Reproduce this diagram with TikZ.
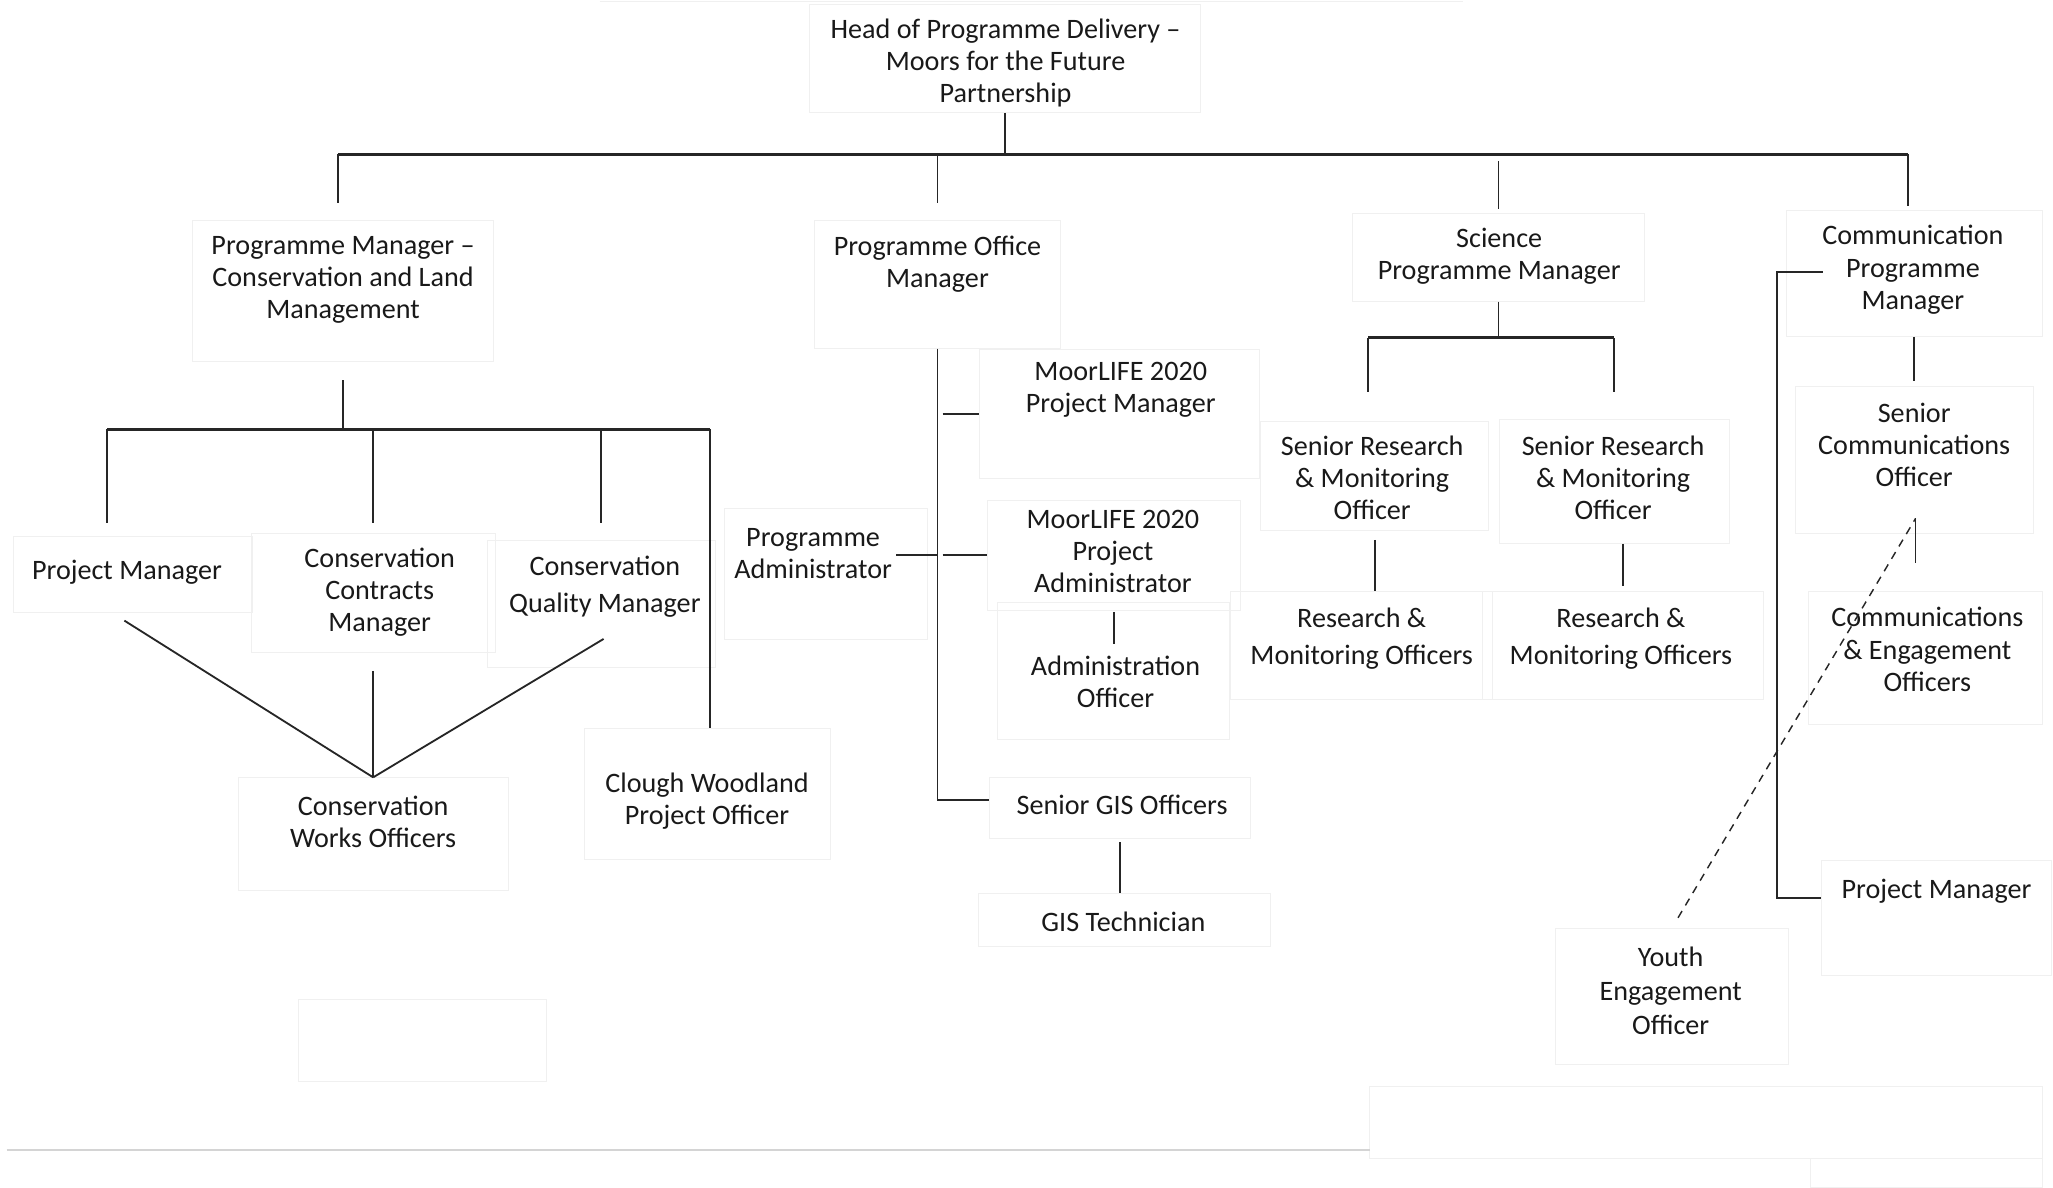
\documentclass[tikz,border=0pt]{standalone}
\usepackage{fontspec}
\setmainfont{Carlito}
\usetikzlibrary{fit}

\begin{document}
\begin{tikzpicture}[x=1pt, y=-1pt,
    post/.style={align=center, inner sep=0pt, yshift=-2pt, text=black!90, font=\fontsize{21.5}{24.5}\selectfont},
    frame/.style={draw=black!6, line width=0.6pt, inner sep=0pt},
    link/.style={draw=black!85, line width=1.4pt},
    bus/.style={draw=black!85, line width=2.2pt},
    dashlink/.style={draw=black!85, line width=1.1pt, dash pattern=on 6pt off 5pt}]

    \useasboundingbox (0,0) rectangle (1568,907);

    % Draw the faint frames.
    \node[frame, fit={(618,3) (917,86)}] (head_box) {};
    \node[frame, fit={(147,168) (377,276)}] (pmc_box) {};
    \node[frame, fit={(622,168) (810,266)}] (pom_box) {};
    \node[frame, fit={(1033,163) (1256,230)}] (spm_box) {};
    \node[frame, fit={(1364,161) (1560,257)}] (cpm_box) {};
    \node[frame, fit={(10,410) (193,468)}] (pm1_box) {};
    \node[frame, fit={(192,407) (378,498)}] (ccm_box) {};
    \node[frame, fit={(372,413) (546,510)}] (cqm_box) {};
    \node[frame, fit={(553,388) (708,488)}] (pa_box) {};
    \node[frame, fit={(182,594) (388,680)}] (cwo_box) {};
    \node[frame, fit={(446,556) (634,656)}] (clough_box) {};
    \node[frame, fit={(228,763) (417,826)}] (blank_box) {};
    \node[frame, fit={(748,267) (962,365)}] (mlpm_box) {};
    \node[frame, fit={(754,382) (947,466)}] (mlpa_box) {};
    \node[frame, fit={(762,460) (939,565)}] (adm_box) {};
    \node[frame, fit={(756,594) (955,640)}] (sgis_box) {};
    \node[frame, fit={(747,682) (970,723)}] (gis_box) {};
    \node[frame, fit={(963,322) (1137,405)}] (srm1_box) {};
    \node[frame, fit={(1145,320) (1321,415)}] (srm2_box) {};
    \node[frame, fit={(940,452) (1140,534)}] (rmo1_box) {};
    \node[frame, fit={(1132,452) (1347,534)}] (rmo2_box) {};
    \node[frame, fit={(1371,295) (1553,407)}] (sco_box) {};
    \node[frame, fit={(1381,452) (1560,553)}] (ceo_box) {};
    \node[frame, fit={(1391,657) (1567,745)}] (pm2_box) {};
    \node[frame, fit={(1188,709) (1366,813)}] (yeo_box) {};
    \node[frame, fit={(1046,830) (1560,885)}] (foot_box) {};
    \node[frame, fit={(1383,885) (1560,907)}] (corner_box) {};
    \draw[black!6, line width=1pt] (458,1) -- (1117,1);
    \draw[black!17, line width=1.6pt] (5,878) -- (1046,878);

    % Draw the posts.
    \node[post] (head) at (768,46) {Head of Programme Delivery –\\Moors for the Future\\Partnership};
    \node[post] (pmc) at (262,212) {Programme Manager –\\Conservation and Land\\Management};
    \node[post] (pom) at (716,200) {Programme Office\\Manager};
    \node[post] (spm) at (1145,194) {Science\\Programme Manager};
    \node[post] (cpm) at (1461,204) {Communication\\Programme\\Manager};
    \node[post] (pm1) at (97,435) {Project Manager};
    \node[post] (ccm) at (290,450) {Conservation\\Contracts\\Manager};
    \node[post] (cqm) at (462,446) {Conservation\\[4pt]Quality Manager};
    \node[post] (cwo) at (285,626) {Conservation\\Works Officers};
    \node[post] (clough) at (540,610) {Clough Woodland\\Project Officer};
    \node[post] (mlpm) at (856,296) {MoorLIFE 2020\\Project Manager};
    \node[post] (mlpa) at (850,419) {MoorLIFE 2020\\Project\\Administrator};
    \node[post] (adm) at (852,519) {Administration\\Officer};
    \node[post] (pa) at (621,421) {Programme\\Administrator};
    \node[post] (sgis) at (857,613) {Senior GIS Officers};
    \node[post] (gis) at (858,702) {GIS Technician};
    \node[post] (srm1) at (1048,363) {Senior Research\\\& Monitoring\\Officer};
    \node[post] (srm2) at (1232,363) {Senior Research\\\& Monitoring\\Officer};
    \node[post] (rmo1) at (1040,486) {Research \&\\[4pt]Monitoring Officers};
    \node[post] (rmo2) at (1238,486) {Research \&\\[4pt]Monitoring Officers};
    \node[post] (sco) at (1462,338) {Senior\\Communications\\Officer};
    \node[post] (ceo) at (1472,494) {Communications\\\& Engagement\\Officers};
    \node[post] (pm2) at (1479,679) {Project Manager};
    \node[post] (yeo) at (1276,755) {Youth\\[1pt]Engagement\\[2pt]Officer};

    % Draw the lines.
    % Head -> managers.
    \coordinate (top_l) at (258,118);
    \coordinate (top_r) at (1457,118);
    \draw[link] (head_box.south) -- (head_box.south |- top_l);
    \draw[bus] (top_l) -- (top_r);
    \draw[link, shorten >=13pt] (top_l) -- (top_l |- pmc_box.north);
    \draw[link, shorten >=13pt] (pom_box.north |- top_l) -- (pom_box.north);
    \draw[link, shorten <=5pt, shorten >=3pt] (spm_box.north |- top_l) -- (spm_box.north);
    \draw[link, shorten >=3pt] (top_r) -- (top_r |- cpm_box.north);
    % Conservation.
    \coordinate (cons_l) at (82,328);
    \coordinate (cons_r) at (542,328);
    \draw[link, shorten <=14pt] (pmc_box.south) -- (pmc_box.south |- cons_l);
    \draw[bus] (cons_l) -- (cons_r);
    \draw[link, shorten >=10pt] (cons_l) -- (cons_l |- pm1_box.north);
    \draw[link, shorten >=7pt] (ccm_box.north |- cons_l) -- (ccm_box.north);
    \draw[link, shorten >=13pt] (cqm_box.north |- cons_l) -- (cqm_box.north);
    \draw[link] (cons_r) -- (cons_r |- clough_box.north);
    \coordinate (v_l) at (95,474);
    \coordinate (v_r) at (461,488);
    \draw[link] (v_l) -- (cwo_box.north);
    \draw[link, shorten <=14pt] (ccm_box.south) -- (cwo_box.north);
    \draw[link] (v_r) -- (cwo_box.north);
    % Programme office.
    \draw[link] (pom_box.south) |- ([yshift=6pt]sgis_box.west);
    \draw[link, shorten <=4pt] (pom_box.south |- mlpm_box.west) -- (mlpm_box.west);
    \draw[link, shorten <=4pt] (pom_box.south |- mlpa_box.west) -- (mlpa_box.west);
    \draw[link, shorten <=3pt] (pa.east |- mlpa_box.west) -- (pom_box.south |- mlpa_box.west);
    \draw[link, shorten <=1pt, shorten >=9pt] (mlpa_box.south) -- (mlpa_box.south |- adm.north);
    \draw[link, shorten <=3pt] (sgis_box.south) -- (sgis_box.south |- gis_box.north);
    % Science.
    \coordinate (sci_l) at (1045,258);
    \coordinate (sci_r) at (1233,258);
    \draw[link] (spm_box.south) -- (spm_box.south |- sci_l);
    \draw[bus] (sci_l) -- (sci_r);
    \draw[link, shorten >=22pt] (sci_l) -- (sci_l |- srm1_box.north);
    \draw[link, shorten >=20pt] (sci_r) -- (sci_r |- srm2_box.north);
    \draw[link, shorten <=7pt] (srm1_box.south) -- (srm1_box.south |- rmo1_box.north);
    \draw[link, shorten >=4pt] (rmo2_box.north |- srm2_box.south) -- (rmo2_box.north);
    % Communication.
    \coordinate (cb_top) at (1392,208);
    \coordinate (sco_foot) at (1463,396);
    \draw[link, shorten >=4pt] (cpm_box.south) -- (sco_box.north);
    \draw[link] (cb_top) -- ++(-35,0) |- ([yshift=15pt]pm2_box.west);
    \draw[link, shorten >=22pt] (sco_foot) -- (sco_foot |- ceo_box.north);
    \draw[dashlink, shorten <=9pt] (yeo_box.north) -- (sco_foot);
\end{tikzpicture}
\end{document}
